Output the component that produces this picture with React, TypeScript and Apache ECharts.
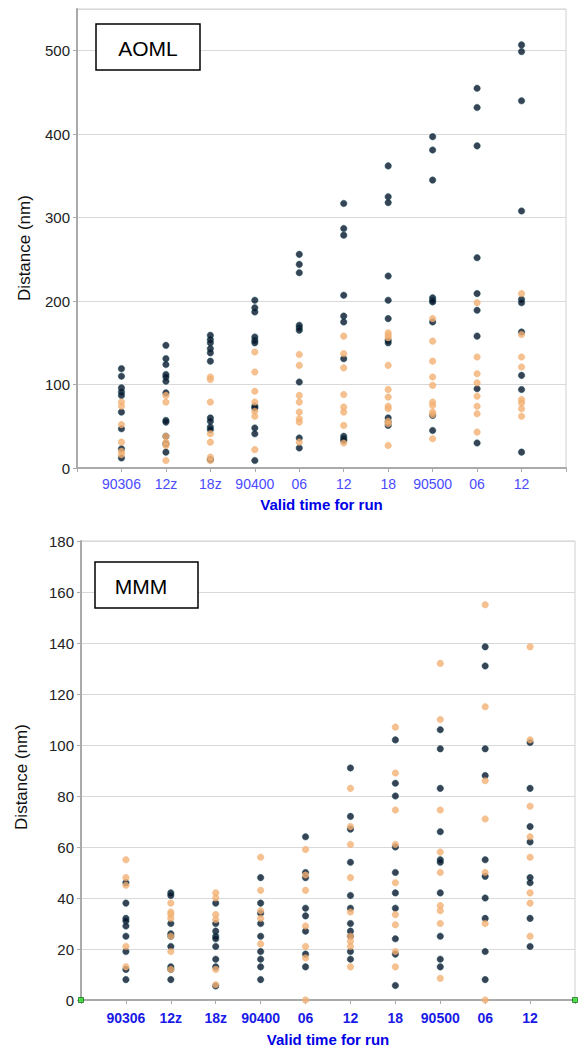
import React, { useEffect, useRef } from "react";
import * as echarts from "echarts";

const categories = ["90306", "12z", "18z", "90400", "06", "12", "18", "90500", "06", "12"];

const aomlDark: number[][] = [
  [119, 110, 96, 91, 87, 67, 47, 23, 12],
  [147, 131, 124, 112, 109, 104, 90, 57, 55, 38, 29, 19],
  [159, 154, 150, 143, 138, 128, 60, 56, 49, 46, 10],
  [201, 192, 187, 157, 153, 150, 74, 72, 48, 41, 9],
  [256, 244, 234, 171, 168, 165, 103, 36, 24],
  [317, 287, 279, 207, 182, 175, 131, 38, 35, 33],
  [362, 325, 318, 230, 201, 179, 153, 150, 60, 55, 51],
  [397, 381, 345, 204, 201, 199, 175, 63, 45],
  [455, 432, 386, 252, 209, 189, 158, 95, 30],
  [507, 499, 440, 308, 202, 198, 163, 111, 94, 19],
];

const aomlOrange: number[][] = [
  [79, 74, 52, 31, 20, 16],
  [87, 79, 38, 31, 27, 9],
  [109, 106, 79, 41, 31, 13, 9],
  [139, 115, 92, 79, 68, 62, 22],
  [136, 123, 87, 79, 67, 59, 55, 31],
  [158, 137, 120, 88, 73, 67, 51, 30],
  [162, 159, 156, 123, 94, 85, 74, 71, 56, 53, 27],
  [179, 152, 128, 109, 99, 79, 75, 67, 64, 35],
  [198, 133, 113, 102, 86, 74, 65, 43],
  [209, 160, 133, 121, 82, 78, 71, 62],
];

const mmmDark: number[][] = [
  [46, 38, 32, 31, 29, 25, 19, 12, 8],
  [42, 41, 30, 26, 25, 21, 13, 12, 8],
  [38, 30, 27, 25, 24, 21, 16, 13, 5.5],
  [48, 38, 34, 30, 25, 19, 16, 13, 8],
  [64, 50, 48, 36, 33, 27, 18, 13],
  [91, 72, 67, 54, 41, 36, 30, 27, 25, 19, 16],
  [102, 85, 80, 60, 50, 42, 36, 24, 18, 5.7],
  [106, 98.5, 83, 66, 55, 54, 42, 25, 16, 13],
  [138.5, 131, 98.5, 88, 55, 48.5, 40, 32, 19, 8],
  [101, 83, 68, 62, 48, 46, 32, 21],
];

const mmmOrange: number[][] = [
  [55, 48, 45, 21, 13],
  [38, 34.5, 33.5, 32, 25, 19, 12],
  [42, 40, 33.5, 31.5, 12, 6],
  [56, 43, 35, 32, 22],
  [59, 49, 43, 29, 21, 16.5, 0],
  [83, 68, 61, 48, 34.5, 25, 23, 21, 13],
  [107, 89, 74.5, 61, 46, 33.5, 29.5, 19, 13],
  [132, 110, 74.5, 58, 50, 37, 35, 30, 8.5],
  [155, 115, 86, 71, 50, 30, 0],
  [138.5, 102, 76, 64, 56, 42, 38, 25],
];

const aomlTicks = [0, 100, 200, 300, 400, 500];
const mmmTicks = [0, 20, 40, 60, 80, 100, 120, 140, 160, 180];
const endMarkers = [[0, 0], [11, 0]];

const FONT = "'Liberation Sans', Arial, sans-serif";
const DARK = "#06142a";
const ORANGE = "#f4b274";

function toPoints(cols: number[][]) {
  const pts: number[][] = [];
  cols.forEach((vals, i) => vals.forEach((v) => pts.push([i + 1, v])));
  return pts;
}

function makeX(gridIndex: number, bold: boolean, color: string) {
  return {
    type: "value",
    gridIndex,
    min: 0,
    max: 11,
    interval: 1,
    name: "Valid time for run",
    nameLocation: "middle",
    nameGap: gridIndex === 0 ? 29 : 32,
    nameTextStyle: { color: "#0000e6", fontWeight: "bold", fontSize: 15, fontFamily: FONT },
    axisLine: { show: true, onZero: false, lineStyle: { color: "#aaaaaa", width: 2 } },
    axisTick: { show: true, length: 4, lineStyle: { color: "#aaaaaa", width: 1 } },
    axisLabel: {
      margin: gridIndex === 0 ? 9 : 11,
      fontSize: 14,
      fontFamily: FONT,
      color,
      fontWeight: bold ? "bold" : "normal",
      formatter: (v: number) => (v >= 1 && v <= 10 ? categories[v - 1] : ""),
    },
    splitLine: { show: false },
  };
}

function makeY(gridIndex: number, ticks: number[], max: number) {
  const step = ticks[1] - ticks[0];
  return {
    type: "value",
    gridIndex,
    min: 0,
    max,
    interval: step,
    axisLine: { show: true, lineStyle: { color: "#aaaaaa", width: 2 } },
    axisTick: { show: true, length: 4, lineStyle: { color: "#aaaaaa", width: 1 } },
    axisLabel: {
      margin: 7,
      fontSize: 15,
      fontFamily: FONT,
      color: "#222222",
      showMaxLabel: max === ticks[ticks.length - 1],
      formatter: (v: number) => (ticks.indexOf(v) >= 0 ? String(v) : ""),
    },
    splitLine: { show: true, lineStyle: { color: "#d9d9d9", width: 1 } },
  };
}

function dotSeries(name: string, data: number[][], idx: number, color: string, dark: boolean) {
  return {
    name,
    type: "scatter",
    xAxisIndex: idx,
    yAxisIndex: idx,
    data,
    symbol: "circle",
    symbolSize: 6.5,
    clip: false,
    itemStyle: dark
      ? { color, borderColor: "#12505a", borderWidth: 0.6 }
      : { color, borderColor: "#f0a864", borderWidth: 0.5 },
    z: dark ? 3 : 4,
  };
}

export default function App() {
  const ref = useRef<HTMLDivElement>(null);
  useEffect(() => {
    if (!ref.current) return;
    const chart = echarts.init(ref.current, null, { renderer: "svg" });
    const option = {
      animation: false,
      backgroundColor: "#ffffff",
      grid: [
        { left: 77, top: 9, width: 489, height: 459, show: true, borderColor: "#d0d0d0", borderWidth: 1, backgroundColor: "transparent" },
        { left: 81, top: 541, width: 494, height: 459, show: true, borderColor: "#d0d0d0", borderWidth: 1, backgroundColor: "transparent" },
      ],
      xAxis: [makeX(0, false, "#4a4aff"), makeX(1, true, "#1a1ae6")],
      yAxis: [makeY(0, aomlTicks, 550), makeY(1, mmmTicks, 180)],
      series: [
        dotSeries("AOML A", toPoints(aomlDark), 0, DARK, true),
        dotSeries("AOML B", toPoints(aomlOrange), 0, ORANGE, false),
        dotSeries("MMM A", toPoints(mmmDark), 1, DARK, true),
        dotSeries("MMM B", toPoints(mmmOrange), 1, ORANGE, false),
        {
          name: "ends",
          type: "scatter",
          xAxisIndex: 1,
          yAxisIndex: 1,
          data: endMarkers,
          symbol: "rect",
          symbolSize: 5,
          clip: false,
          itemStyle: { color: "#33dd33", borderColor: "#117711", borderWidth: 1 },
          z: 6,
        },
      ],
      graphic: [
        { type: "rect", shape: { x: 96, y: 24, width: 104, height: 46 }, style: { fill: "#ffffff", stroke: "#000000", lineWidth: 1.5 }, z: 10 },
        { type: "text", x: 148, y: 48, style: { text: "AOML", fontSize: 21, fontFamily: FONT, fill: "#000000", align: "center", verticalAlign: "middle" }, z: 11 },
        { type: "rect", shape: { x: 95, y: 562, width: 103, height: 46 }, style: { fill: "#ffffff", stroke: "#000000", lineWidth: 1.5 }, z: 10 },
        { type: "text", x: 141, y: 586, style: { text: "MMM", fontSize: 21, fontFamily: FONT, fill: "#000000", align: "center", verticalAlign: "middle" }, z: 11 },
        { type: "text", x: 24, y: 248, rotation: Math.PI / 2, style: { text: "Distance (nm)", fontSize: 17, fontFamily: FONT, fill: "#111111", align: "center", verticalAlign: "middle" }, z: 11 },
        { type: "text", x: 21, y: 777, rotation: Math.PI / 2, style: { text: "Distance (nm)", fontSize: 17, fontFamily: FONT, fill: "#111111", align: "center", verticalAlign: "middle" }, z: 11 },
      ],
    };
    chart.setOption(option as any);
    return () => chart.dispose();
  }, []);
  return (
    <div
      ref={ref}
      style={{ position: "fixed", left: 0, top: 0, width: 579, height: 1049, background: "#fff" }}
    />
  );
}
